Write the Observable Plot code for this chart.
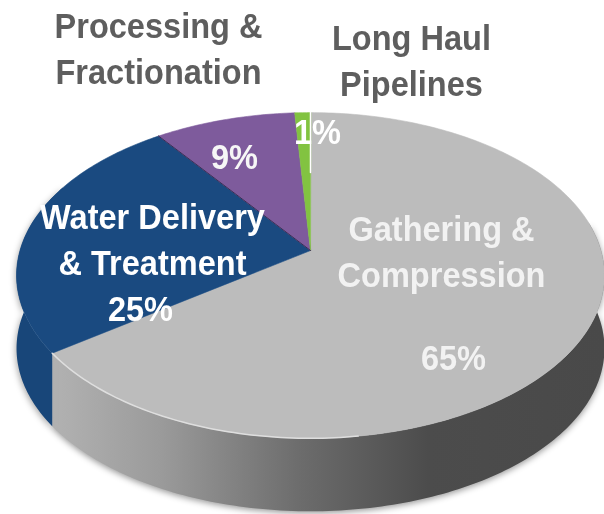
<!DOCTYPE html>
<html>
<head>
<meta charset="utf-8">
<script src="https://cdn.jsdelivr.net/npm/d3@7"></script>
<script src="https://cdn.jsdelivr.net/npm/@observablehq/plot@0.6"></script>
<style>
html,body{margin:0;padding:0;background:#fff}
svg{display:block;filter:blur(0.6px)}
</style>
</head>
<body>
<div id="chart"></div>
<script>
// Chart values
const categories = ["Gathering & Compression", "Water Delivery & Treatment", "Processing & Fractionation", "Long Haul Pipelines"];
const shares = [65, 25, 9, 1];
const colors = ["#bcbcbc", "#1a4a80", "#7e5b9c", "#82c341"];

// Text
const labelTexts = ["Processing &\nFractionation", "Long Haul\nPipelines", "Water Delivery\n& Treatment", "25%", "Gathering &\nCompression", "65%", "9%", "1%"];
const labelColors = ["#5e5e5e", "#5e5e5e", "#ffffff", "#ffffff", "#f2f2f2", "#f2f2f2", "#f6f6f6", "#ffffff"];

// Label anchors, in pie-plane units (origin at the pie's apex)
const labelX = [-152, 101, -158, -170, 131, 143, -76, 7];
const labelY = [-167, -155, 24, 70, 36, 119, -82, -107];

// Perspective of the pie
const A = 290.5, B = 159, K = 0.1532, DEPTH = 73;
const rad = (d) => (d * Math.PI) / 180;
const project = (deg, r = 1, drop = 0) => {
  const s = Math.sin(rad(deg)) * r, c = Math.cos(rad(deg)) * r, w = 1 + K * c;
  return {x: (A * s) / w, y: (-B * c) / w + drop};
};
const degreesBetween = (a, b) => {
  const out = [];
  const n = Math.max(2, Math.ceil(b - a) + 1);
  for (let i = 0; i < n; i++) out.push(a + ((b - a) * i) / (n - 1));
  return out;
};

// Slice polygons from the shares
const edges = d3.cumsum(shares).map((v) => (v * 360) / d3.sum(shares));
const starts = [0, ...edges.slice(0, -1)];
const slicePoints = categories.flatMap((name, i) => [
  {name, ...project(0, 0)},
  ...degreesBetween(starts[i], edges[i]).map((d) => ({name, ...project(d)}))
]);
const sliceColor = new Map(categories.map((c, i) => [c, colors[i]]));

const wall = (a, b) => [
  ...degreesBetween(a, b).map((d) => project(d)),
  ...degreesBetween(a, b).reverse().map((d) => project(d, 1, DEPTH))
];
const greyWall = wall(80, edges[0]);
const blueWall = wall(edges[0], 295);
const rimLight = degreesBetween(172, edges[0]).map((d) => project(d));
const bluePurple = [project(edges[1], 0), project(edges[1])];
const leader = [project(0, 0.53), project(0)];

const defs = () => {
  const ns = "http://www.w3.org/2000/svg";
  const d = document.createElementNS(ns, "defs");
  d.innerHTML = `<linearGradient id="wallGrey" x1="0" x2="1" y1="0" y2="0">
    <stop offset="0" stop-color="#b2b2b2"/><stop offset="0.2" stop-color="#9a9a9a"/>
    <stop offset="0.45" stop-color="#6c6c6c"/><stop offset="0.68" stop-color="#4c4c4c"/>
    <stop offset="1" stop-color="#494949"/></linearGradient>`;
  return d;
};

const squeeze = (f) => (index, scales, values, dims, ctx, next) => {
  const g = next(index, scales, values, dims, ctx);
  g.querySelectorAll("text").forEach((t) => {
    t.setAttribute("transform", `${t.getAttribute("transform") || ""} scale(${f},1)`);
  });
  return g;
};

const labels = labelTexts.map((text, i) => ({text, x: labelX[i], y: labelY[i], color: labelColors[i]}));

const chart = Plot.plot({
  width: 604,
  height: 514,
  margin: 0,
  x: {domain: [-310, 294], range: [0, 604], axis: null},
  y: {domain: [-250, 264], range: [0, 514], axis: null},
  style: {background: "#fff", fontFamily: "'Liberation Sans', Arial, sans-serif"},
  marks: [
    defs,
    Plot.line(greyWall, {x: "x", y: "y", fill: "url(#wallGrey)", stroke: "none", curve: "linear-closed", imageFilter: "drop-shadow(0 2px 3px #999)"}),
    Plot.line(blueWall, {x: "x", y: "y", fill: "#184679", stroke: "none", curve: "linear-closed", imageFilter: "drop-shadow(-1px 2px 3px #aaa)"}),
    Plot.line(slicePoints, {x: "x", y: "y", z: "name", fill: (d) => sliceColor.get(d.name), stroke: (d) => sliceColor.get(d.name), strokeWidth: 0.6, curve: "linear-closed"}),
    Plot.line(rimLight, {x: "x", y: "y", stroke: "#dedede", strokeWidth: 1.5}),
    Plot.line(bluePurple, {x: "x", y: "y", stroke: "#3a2f55", strokeWidth: 1}),
    Plot.line(leader, {x: "x", y: "y", stroke: "#ffffff", strokeWidth: 1.5}),
    Plot.text(labels, {
      x: "x", y: "y", text: "text", fill: "color",
      fontSize: 35, fontWeight: "bold", lineHeight: 1.3, lineAnchor: "bottom", textAnchor: "middle",
      render: squeeze(0.93)
    })
  ]
});
document.getElementById("chart").append(chart);
</script>
</body>
</html>
